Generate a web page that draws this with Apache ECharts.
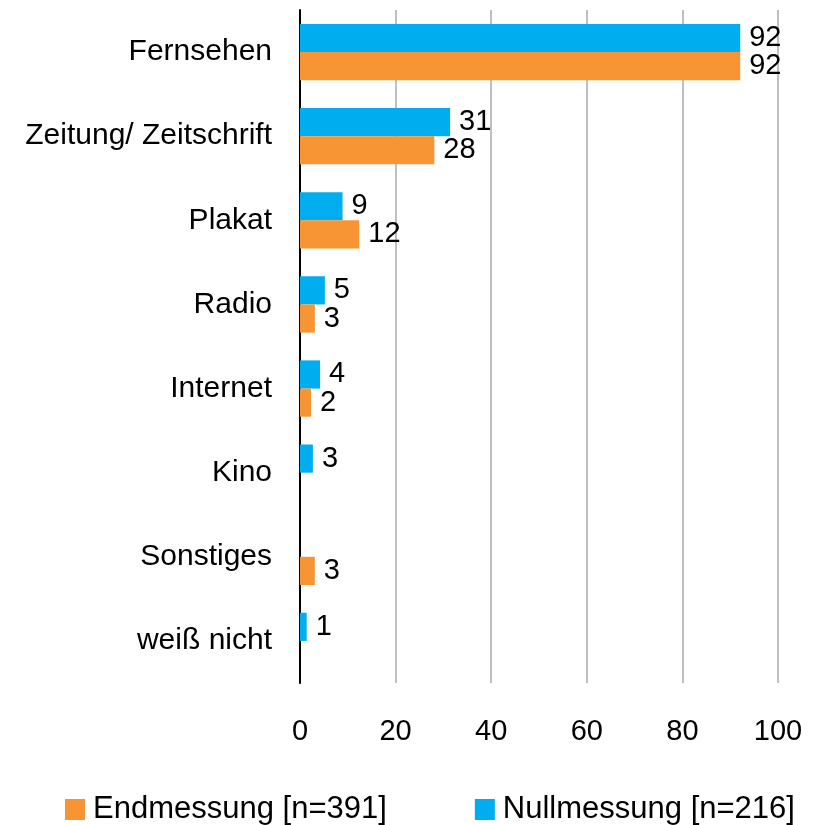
<!DOCTYPE html>
<html>
<head>
<meta charset="utf-8">
<script src="https://cdn.jsdelivr.net/npm/echarts@6/dist/echarts.min.js"></script>
<style>
  html, body { margin: 0; padding: 0; background: #fff; }
  #chart { width: 818px; height: 825px; }
</style>
</head>
<body>
<div id="chart"></div>
<script>
// Kategorien (von oben nach unten)
const categories = ['Fernsehen', 'Zeitung/ Zeitschrift', 'Plakat', 'Radio', 'Internet', 'Kino', 'Sonstiges', 'weiß nicht']

// Werte in Prozent
const nullmessung = [92.1, 31.4, 8.9, 5.2, 4.2, 2.7, null, 1.4]
const endmessung = [92.1, 28.1, 12.4, 3.1, 2.3, null, 3.1, null]

const xTicks = [0, 20, 40, 60, 80, 100]

const fontFamily = '"Liberation Sans", Arial, sans-serif'

const chart = echarts.init(document.getElementById('chart'))

const labelStyle = {
    show: true,
    position: 'right',
    distance: 9,
    color: '#000',
    fontFamily: fontFamily,
    fontSize: 29,
    formatter: p => Math.round(p.value)
}

chart.setOption({
    animation: false,
    textStyle: { fontFamily: fontFamily },
    grid: { left: 300, right: 40, top: 10, bottom: 142, containLabel: false },
    legend: {
        data: ['Endmessung [n=391]', 'Nullmessung [n=216]'],
        top: 789,
        left: 60,
        itemWidth: 20,
        itemHeight: 21,
        itemGap: 88,
        icon: 'rect',
        textStyle: { fontSize: 31, color: '#000', fontFamily: fontFamily, padding: [0, 0, 0, 3] }
    },
    xAxis: {
        type: 'value',
        min: xTicks[0],
        max: xTicks[xTicks.length - 1],
        interval: 20,
        axisLine: { show: false },
        axisTick: { show: false },
        axisLabel: { color: '#000', fontSize: 29, margin: 34 },
        splitLine: { show: true, lineStyle: { color: '#BFBFBF', width: 2 } }
    },
    yAxis: {
        type: 'category',
        data: categories,
        inverse: true,
        axisLine: { show: true, lineStyle: { color: '#000', width: 2 } },
        axisTick: { show: false },
        axisLabel: { color: '#000', fontSize: 30, margin: 28 }
    },
    series: [
        {
            name: 'Nullmessung [n=216]',
            type: 'bar',
            data: nullmessung,
            barGap: 0,
            barCategoryGap: '33%',
            itemStyle: { color: '#00AEEF' },
            label: labelStyle
        },
        {
            name: 'Endmessung [n=391]',
            type: 'bar',
            data: endmessung,
            itemStyle: { color: '#F79433' },
            label: labelStyle
        }
    ]
})
</script>
</body>
</html>
